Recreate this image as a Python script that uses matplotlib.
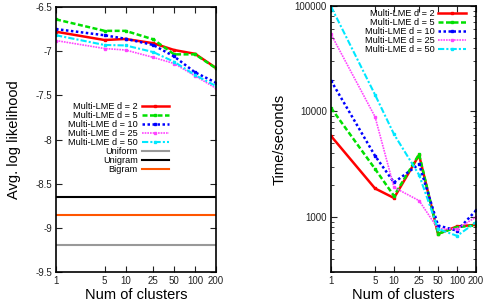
import numpy as np
import matplotlib
matplotlib.use("Agg")
import matplotlib.pyplot as plt
from matplotlib.ticker import FixedLocator, NullFormatter, LogLocator

plt.rcParams['font.family'] = ['Liberation Sans', 'DejaVu Sans']

clusters = [1, 5, 10, 25, 50, 100, 200]
tick_labels = ["1", "5", "10", "25", "50", "100", "200"]

# avg. log likelihood
ll_d2 = [-6.78, -6.874, -6.862, -6.91, -6.987, -7.03, -7.19]
ll_d5 = [-6.64, -6.77, -6.77, -6.866, -7.036, -7.036, -7.194]
ll_d10 = [-6.75, -6.82, -6.86, -6.93, -7.06, -7.24, -7.357]
ll_d25 = [-6.88, -6.97, -6.987, -7.07, -7.14, -7.28, -7.42]
ll_d50 = [-6.82, -6.93, -6.935, -7.01, -7.12, -7.27, -7.395]
ll_uniform = -9.20
ll_unigram = -8.65
ll_bigram = -8.86

# time in seconds
t_d2 = [5850, 1860, 1510, 3850, 690, 812, 840]
t_d5 = [10800, 2850, 1580, 3930, 690, 800, 830]
t_d10 = [19600, 3790, 2120, 3160, 828, 740, 1150]
t_d25 = [54000, 8900, 1905, 1425, 770, 770, 995]
t_d50 = [99000, 14400, 6070, 2500, 770, 660, 890]

labels = ["Multi-LME d = 2", "Multi-LME d = 5", "Multi-LME d = 10",
          "Multi-LME d = 25", "Multi-LME d = 50"]
styles = [
    dict(color="#ff0000", lw=1.8, ls="-"),
    dict(color="#00e000", lw=1.8, ls=(0, (2, 1))),
    dict(color="#0000ff", lw=1.8, ls=(0, (1, 1))),
    dict(color="#ff44ff", lw=1.2, ls=(0, (1, 0.6))),
    dict(color="#00e8ff", lw=1.5, ls=(0, (3, 1, 1, 1))),
]

W, H = 489, 302
fig = plt.figure(figsize=(W / 100, H / 100), dpi=100)
ax1 = fig.add_axes([56 / W, 30 / H, 160 / W, 265 / H])
ax2 = fig.add_axes([331 / W, 30 / H, 145 / W, 266 / H])

leg_kw = dict(bbox_transform=fig.transFigure, markerfirst=False, frameon=False,
              fontsize=6.6, labelspacing=0.0, handlelength=3.0, handletextpad=0.4,
              borderpad=0, borderaxespad=0, loc="upper right")

for ax in (ax1, ax2):
    ax.set_xscale("log")
    ax.set_xlim(1, 200)
    ax.xaxis.set_major_locator(FixedLocator(clusters))
    ax.set_xticklabels(tick_labels)
    ax.xaxis.set_minor_formatter(NullFormatter())
    ax.xaxis.set_minor_locator(FixedLocator([]))
    ax.tick_params(which="both", direction="in", top=True, right=True,
                   labelsize=7, colors="#222222", pad=3)
    ax.tick_params(which="major", length=4, width=0.8)
    ax.tick_params(which="minor", length=2, width=0.6)
    for s in ax.spines.values():
        s.set_linewidth(1.2)
    ax.set_xlabel("Num of clusters", fontsize=10.5, labelpad=1)

# left: log likelihood
for y, lab, st in zip([ll_d2, ll_d5, ll_d10, ll_d25, ll_d50], labels, styles):
    ax1.plot(clusters, y, label=lab, marker="s", ms=1.8, **st)
ax1.axhline(ll_uniform, color="#999999", lw=1.5, label="Uniform")
ax1.axhline(ll_unigram, color="#000000", lw=1.5, label="Unigram")
ax1.axhline(ll_bigram, color="#ff5500", lw=1.5, label="Bigram")
ax1.set_ylim(-9.5, -6.5)
ax1.set_yticks(np.arange(-9.5, -6.49, 0.5))
ax1.set_yticklabels(["-9.5", "-9", "-8.5", "-8", "-7.5", "-7", "-6.5"])
ax1.set_ylabel("Avg. log likelihood", fontsize=10.5, labelpad=10)
ax1.legend(bbox_to_anchor=(169 / W, 1 - 102 / H), **leg_kw)

# right: time
for y, lab, st in zip([t_d2, t_d5, t_d10, t_d25, t_d50], labels, styles):
    ax2.plot(clusters, y, label=lab, marker="s", ms=1.8, **st)
ax2.set_yscale("log")
ax2.set_ylim(300, 100000)
ax2.yaxis.set_major_locator(FixedLocator([1000, 10000, 100000]))
ax2.set_yticklabels(["1000", "10000", "100000"])
ax2.yaxis.set_minor_locator(LogLocator(base=10, subs=np.arange(2, 10)))
ax2.yaxis.set_minor_formatter(NullFormatter())
ax2.set_ylabel("Time/seconds", fontsize=10.5, labelpad=6)
ax2.legend(bbox_to_anchor=(466 / W, 1 - 9 / H), **leg_kw)

fig.savefig("out.png", dpi=100)
